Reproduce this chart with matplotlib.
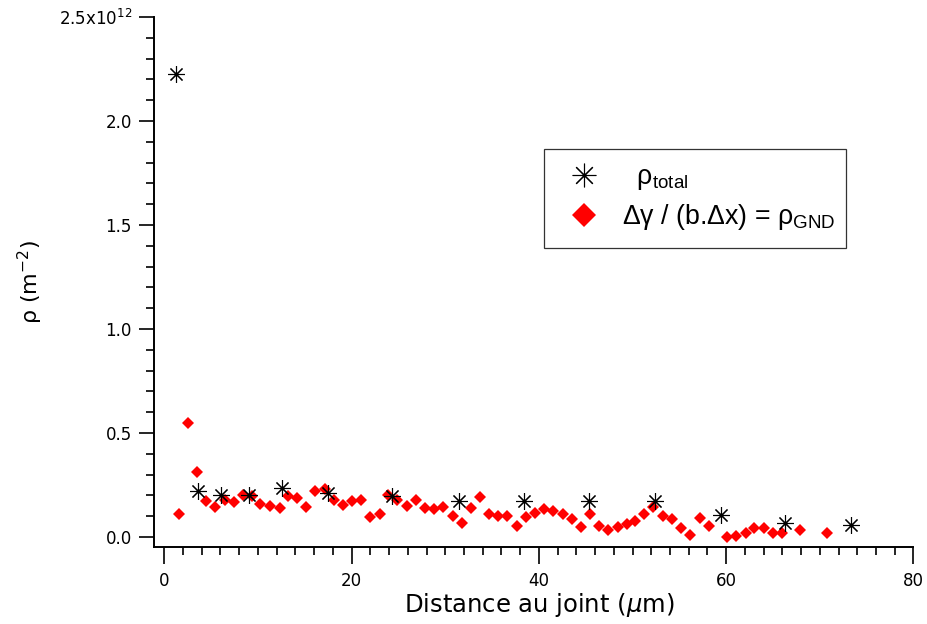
import matplotlib
matplotlib.use("Agg")
import matplotlib.pyplot as plt
from matplotlib.ticker import MultipleLocator, FuncFormatter

# ---- data ----
x_total = [1.28, 3.60, 6.01, 9.00, 12.52, 17.53, 24.36, 31.48, 38.45, 45.39,
           52.40, 59.41, 66.31, 73.29]
rho_total = [2.226, 0.223, 0.202, 0.201, 0.234, 0.213, 0.197, 0.175, 0.172,
             0.175, 0.173, 0.106, 0.069, 0.056]  # x 1e12

x_gnd = [1.53, 2.53, 3.49, 4.45, 5.44, 6.44, 7.44, 8.40, 9.36, 10.25,
         11.31, 12.31, 13.16, 14.16, 15.15, 16.12, 17.11, 18.07, 19.07, 20.06,
         21.02, 21.99, 22.98, 23.94, 24.83, 25.90, 26.89, 27.85, 28.85, 29.81,
         30.81, 31.77, 32.76, 33.72, 34.69, 35.68, 36.64, 37.64, 38.63, 39.59,
         40.59, 41.55, 42.55, 43.51, 44.47, 45.46, 46.42, 47.42, 48.42, 49.38,
         50.27, 51.26, 52.22, 53.22, 54.25, 55.18, 56.17, 57.20, 58.16, 60.05,
         61.05, 62.08, 63.00, 64.03, 64.96, 65.99, 67.88, 70.79]
rho_gnd = [0.110, 0.547, 0.311, 0.175, 0.143, 0.178, 0.170, 0.200, 0.197, 0.160,
           0.150, 0.138, 0.199, 0.186, 0.143, 0.223, 0.231, 0.178, 0.152, 0.175,
           0.178, 0.098, 0.110, 0.202, 0.176, 0.150, 0.178, 0.138, 0.133, 0.146,
           0.101, 0.066, 0.138, 0.191, 0.109, 0.101, 0.101, 0.053, 0.098, 0.117,
           0.135, 0.125, 0.110, 0.085, 0.047, 0.109, 0.053, 0.034, 0.050, 0.061,
           0.078, 0.109, 0.143, 0.101, 0.087, 0.042, 0.010, 0.090, 0.054, 0.001,
           0.005, 0.018, 0.042, 0.042, 0.021, 0.018, 0.034, 0.018]  # x 1e12

scale = 1e12
y_ticks = [0.0, 0.5, 1.0, 1.5, 2.0, 2.5]
label_total = "  ρ$_{\\mathrm{total}}$"
label_gnd = "Δγ / (b.Δx) = ρ$_{\\mathrm{GND}}$"

plt.rcParams['font.family'] = ['DejaVu Sans']
plt.rcParams['mathtext.fontset'] = 'custom'
plt.rcParams['mathtext.rm'] = 'Liberation Sans'
plt.rcParams['mathtext.it'] = 'Liberation Sans:italic'
plt.rcParams['mathtext.bf'] = 'Liberation Sans:bold'

fig = plt.figure(figsize=(9.28, 6.24), dpi=100)
ax = fig.add_axes([154/928, 1 - 547/624, (913.5-154)/928, (547-17)/624])

ax.plot(x_total, [v*scale for v in rho_total], linestyle='none',
        marker=(8, 2, 0), markersize=12, markeredgewidth=0.8,
        color='black', label=label_total, zorder=3)
ax.plot(x_gnd, [v*scale for v in rho_gnd], linestyle='none',
        marker='D', markersize=6.0, color='#ff0000', markeredgewidth=0,
        label=label_gnd, zorder=2)

ax.set_xlim(-1.1, 80)
ax.set_ylim(-0.048*scale, 2.5*scale)

for s in ['top', 'right']:
    ax.spines[s].set_visible(False)
for s in ['left', 'bottom']:
    ax.spines[s].set_linewidth(1.4)

ax.xaxis.set_major_locator(MultipleLocator(20))
ax.xaxis.set_minor_locator(MultipleLocator(2))
ax.set_yticks([t*scale for t in y_ticks])
ax.yaxis.set_minor_locator(MultipleLocator(0.1*scale))

def yfmt(v, pos):
    t = v/scale
    if abs(t - 2.5) < 1e-6:
        return r"2.5x10$^{12}$"
    return f"{t:.1f}"
ax.yaxis.set_major_formatter(FuncFormatter(yfmt))

ax.tick_params(axis='both', which='major', direction='out', width=1.2,
               labelsize=12, colors='black')
ax.tick_params(axis='x', which='major', length=12, pad=6)
ax.tick_params(axis='y', which='major', length=11, pad=5)
ax.tick_params(axis='both', which='minor', direction='out', width=1.2, length=6)
for t in ax.get_yticklabels():
    t.set_math_fontfamily('dejavusans')

xl = ax.set_xlabel("Distance au joint ($\\mu$m)", fontsize=17.5)
xl.set_math_fontfamily('dejavusans')
ax.xaxis.set_label_coords((40+1.1)/81.1, -0.083)
yl = ax.set_ylabel("ρ (m$^{-2}$)", fontsize=16, labelpad=10)
yl.set_math_fontfamily('dejavusans')

leg = ax.legend(loc='upper left',
                bbox_to_anchor=(0.5135, 0.592, 0.3975, 0.159), mode='expand',
                frameon=True, fancybox=False, edgecolor='black',
                borderaxespad=0, borderpad=0.57, handlelength=1.85,
                handletextpad=0.5, labelspacing=0.38,
                prop={'family': 'Liberation Sans', 'size': 19.3})
leg.get_frame().set_linewidth(0.9)
hs = leg.legend_handles
hs[0].set_markersize(17)
hs[1].set_markersize(12)

fig.savefig("out.png", dpi=100)
